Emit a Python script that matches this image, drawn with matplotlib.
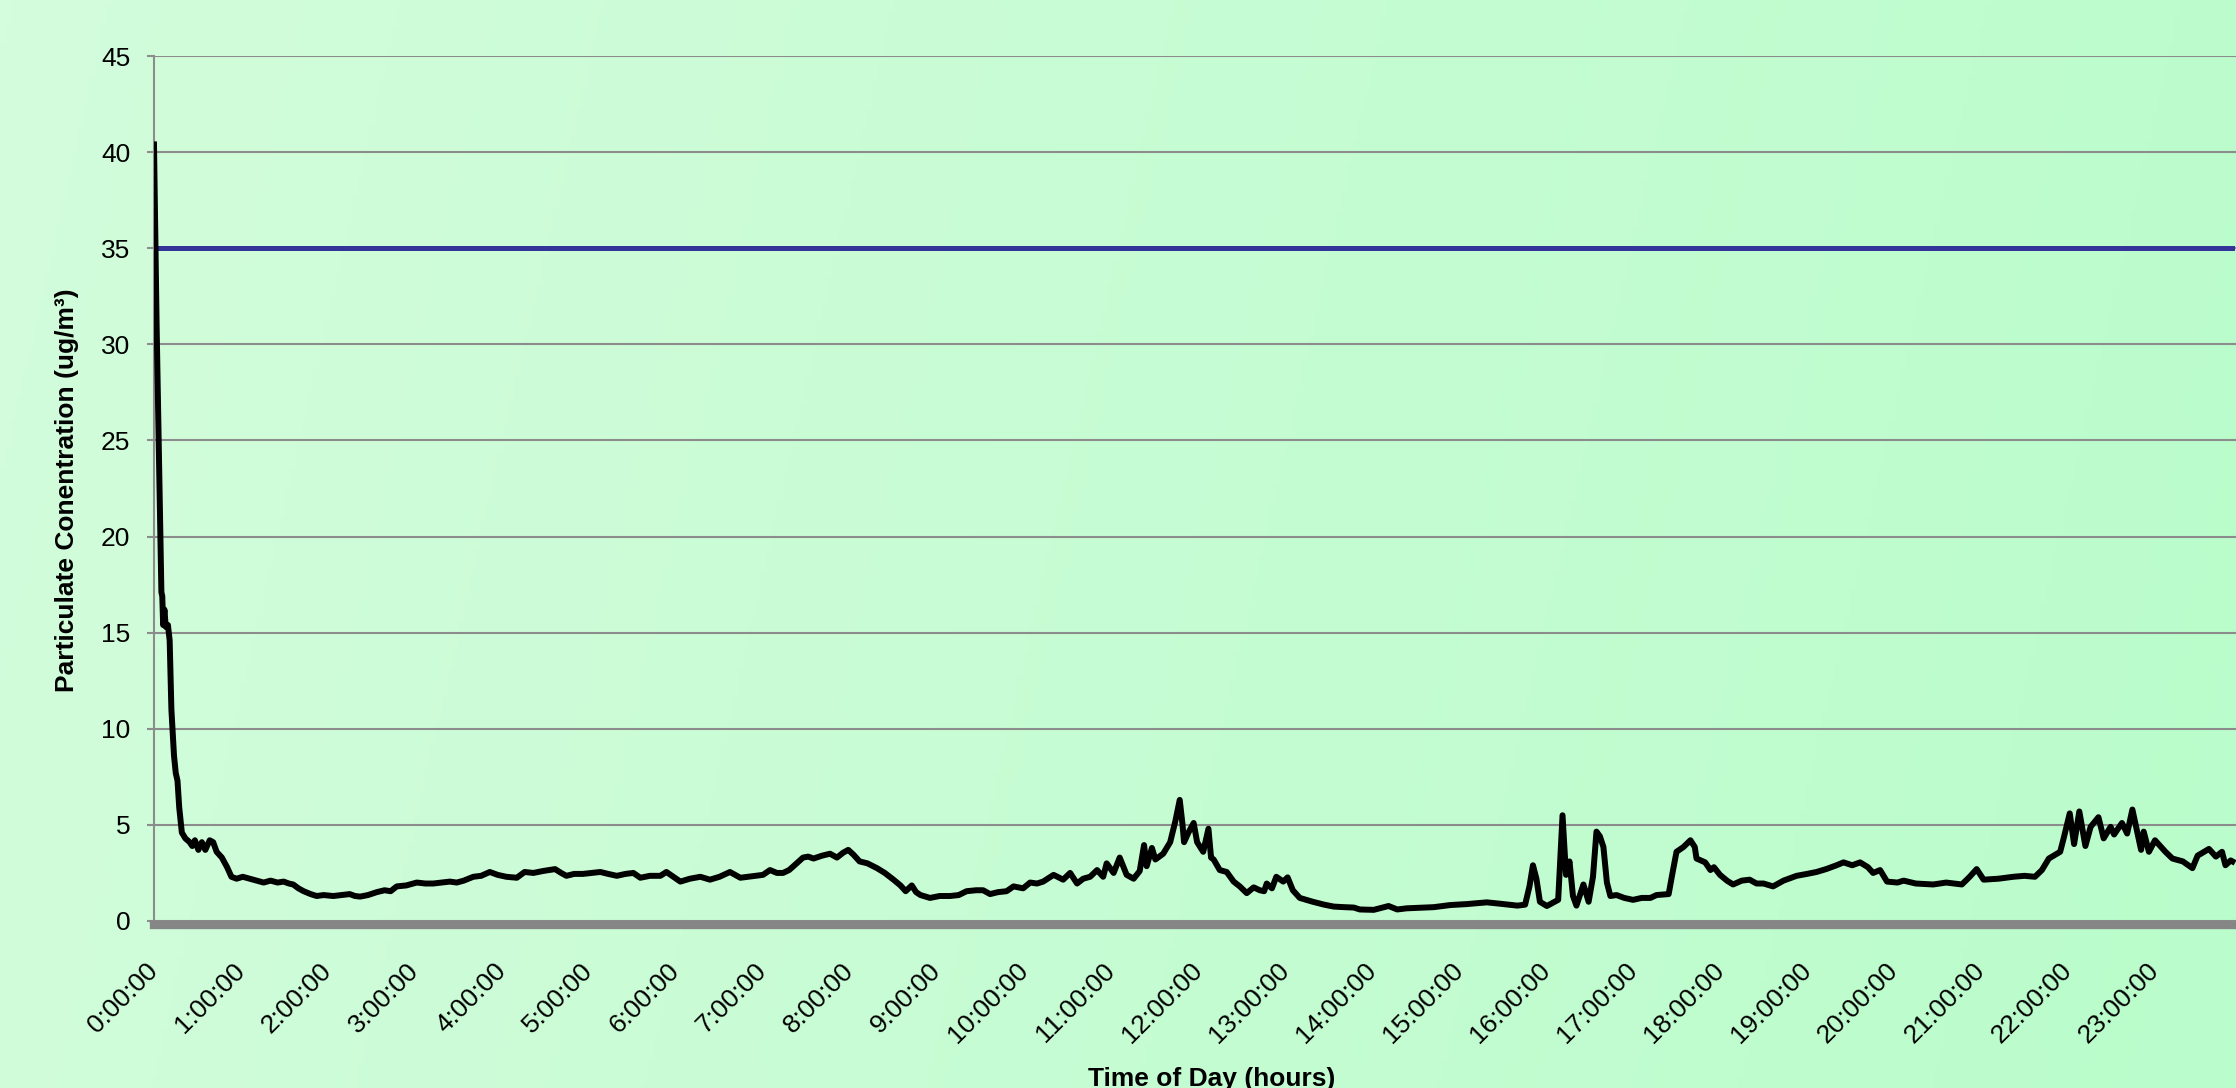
import numpy as np
import matplotlib.pyplot as plt
from matplotlib.colors import LinearSegmentedColormap

plt.rcParams['font.family'] = ['Liberation Sans', 'DejaVu Sans']

# time of day in hours, particulate concentration in ug/m3
hours = [
    0.00, 0.03, 0.06, 0.085, 0.095, 0.105, 0.12, 0.135, 0.16, 0.18, 0.20, 0.23, 0.25, 0.27, 0.29, 0.32,
    0.36, 0.41, 0.44, 0.47, 0.51, 0.55, 0.59, 0.64, 0.68, 0.72, 0.78, 0.84, 0.89, 0.95,
    1.02, 1.10, 1.18, 1.26, 1.34, 1.42, 1.49, 1.55, 1.60, 1.66, 1.72, 1.80, 1.87, 1.95,
    2.06, 2.15, 2.25, 2.31, 2.37, 2.46, 2.56, 2.65, 2.72, 2.79, 2.90,
    3.02, 3.12, 3.21, 3.30, 3.40, 3.48, 3.56, 3.67, 3.76, 3.86, 3.95,
    4.05, 4.17, 4.26, 4.36, 4.47, 4.61, 4.68, 4.74, 4.83, 4.93,
    5.03, 5.13, 5.22, 5.32, 5.42, 5.51, 5.59, 5.70, 5.82, 5.89, 5.97,
    6.05, 6.16, 6.28, 6.39, 6.50, 6.62, 6.74, 6.83, 6.93,
    7.00, 7.08, 7.16, 7.23, 7.30, 7.35, 7.46, 7.52, 7.58, 7.68, 7.77, 7.85, 7.92, 7.98,
    8.04, 8.11, 8.20, 8.31, 8.40, 8.50, 8.58, 8.64, 8.71, 8.76, 8.81, 8.92,
    9.03, 9.15, 9.25, 9.34, 9.45, 9.53, 9.61, 9.70, 9.80, 9.88, 9.99,
    10.07, 10.15, 10.22, 10.34, 10.45, 10.53, 10.61, 10.68, 10.76, 10.84, 10.91, 10.95,
    11.03, 11.10, 11.18, 11.26, 11.33, 11.38, 11.41, 11.47, 11.51, 11.60, 11.68, 11.74, 11.79,
    11.82, 11.84, 11.89, 11.95, 11.99,
    12.06, 12.12, 12.15, 12.18, 12.25, 12.33, 12.41, 12.48, 12.56, 12.64, 12.71, 12.76, 12.79,
    12.85, 12.90, 12.98,
    13.03, 13.09, 13.17, 13.32, 13.45, 13.56, 13.68, 13.79, 13.86,
    14.02, 14.19, 14.29, 14.40, 14.51, 14.71, 14.90,
    15.09, 15.32, 15.47, 15.67, 15.76, 15.81, 15.85, 15.89, 15.93,
    16.01, 16.08, 16.14, 16.19, 16.23, 16.27, 16.31, 16.35, 16.43, 16.49, 16.54, 16.58, 16.62,
    16.66, 16.70, 16.74, 16.81, 16.90,
    17.00, 17.10, 17.20, 17.27, 17.41, 17.45, 17.50, 17.58, 17.66, 17.71, 17.73, 17.83, 17.89, 17.93,
    18.00, 18.08, 18.15, 18.25, 18.34, 18.42, 18.50, 18.61, 18.73, 18.88,
    19.00, 19.11, 19.22, 19.34, 19.42, 19.52, 19.61, 19.70, 19.76, 19.84, 19.92,
    20.04, 20.11, 20.25, 20.45, 20.60, 20.78, 20.87, 20.95,
    21.03, 21.20, 21.37, 21.50, 21.62, 21.70, 21.78, 21.91, 21.95,
    22.02, 22.07, 22.13, 22.20, 22.26, 22.35, 22.41, 22.49, 22.53, 22.62, 22.68, 22.74, 22.80,
    22.84, 22.87, 22.93,
    23.00, 23.12, 23.20, 23.32, 23.43, 23.49, 23.62, 23.70, 23.77, 23.81, 23.87, 23.89,
]
pm25 = [
    40.4, 31.0, 23.5, 17.1, 16.9, 15.4, 16.2, 15.3, 15.4, 14.6, 11.0, 8.6, 7.7, 7.3, 5.9, 4.6,
    4.3, 4.1, 3.9, 4.2, 3.7, 4.1, 3.7, 4.2, 4.1, 3.6, 3.3, 2.8, 2.3, 2.2,
    2.3, 2.2, 2.1, 2.0, 2.1, 2.0, 2.05, 1.95, 1.9, 1.7, 1.55, 1.4, 1.3, 1.35,
    1.3, 1.35, 1.4, 1.3, 1.27, 1.35, 1.5, 1.6, 1.55, 1.8, 1.85,
    2.0, 1.95, 1.95, 2.0, 2.05, 2.0, 2.1, 2.3, 2.35, 2.55, 2.4,
    2.3, 2.25, 2.55, 2.5, 2.6, 2.7, 2.5, 2.35, 2.45, 2.45,
    2.5, 2.55, 2.45, 2.35, 2.45, 2.5, 2.25, 2.35, 2.35, 2.55, 2.3,
    2.05, 2.2, 2.3, 2.15, 2.3, 2.55, 2.25, 2.3, 2.35,
    2.4, 2.65, 2.5, 2.5, 2.65, 2.85, 3.3, 3.35, 3.25, 3.4, 3.5, 3.3, 3.55, 3.7,
    3.45, 3.1, 3.0, 2.75, 2.5, 2.15, 1.85, 1.55, 1.85, 1.5, 1.35, 1.2,
    1.3, 1.3, 1.35, 1.55, 1.6, 1.6, 1.4, 1.5, 1.55, 1.8, 1.7,
    2.0, 1.95, 2.05, 2.4, 2.15, 2.5, 1.95, 2.2, 2.3, 2.65, 2.3, 3.0,
    2.5, 3.3, 2.4, 2.2, 2.6, 3.95, 2.85, 3.8, 3.2, 3.5, 4.1, 5.2, 6.3,
    5.1, 4.1, 4.6, 5.1, 4.1,
    3.6, 4.8, 3.3, 3.2, 2.65, 2.55, 2.05, 1.8, 1.45, 1.75, 1.6, 1.55, 1.95,
    1.7, 2.3, 2.05,
    2.27, 1.6, 1.2, 1.0, 0.85, 0.75, 0.72, 0.7, 0.6,
    0.58, 0.78, 0.6, 0.66, 0.68, 0.72, 0.83,
    0.88, 0.97, 0.9, 0.8, 0.85, 1.8, 2.9, 2.2, 1.0,
    0.78, 0.95, 1.1, 5.5, 2.4, 3.1, 1.3, 0.8, 1.9, 1.0, 2.3, 4.65, 4.4,
    3.85, 2.0, 1.3, 1.35, 1.2,
    1.1, 1.2, 1.2, 1.35, 1.4, 2.4, 3.6, 3.85, 4.2, 3.85, 3.25, 3.05, 2.65, 2.8,
    2.4, 2.1, 1.9, 2.1, 2.15, 1.95, 1.95, 1.8, 2.1, 2.35,
    2.45, 2.55, 2.7, 2.9, 3.05, 2.9, 3.05, 2.8, 2.5, 2.65, 2.05,
    2.0, 2.1, 1.95, 1.9, 2.0, 1.9, 2.3, 2.7,
    2.15, 2.2, 2.3, 2.35, 2.3, 2.65, 3.25, 3.6, 4.3,
    5.6, 4.0, 5.7, 3.9, 4.9, 5.4, 4.3, 4.9, 4.5, 5.1, 4.55, 5.8, 4.55,
    3.7, 4.65, 3.6,
    4.2, 3.6, 3.25, 3.1, 2.75, 3.4, 3.75, 3.35, 3.6, 2.9, 3.15, 3.1,
]
standard = 35
y_ticks = [0, 5, 10, 15, 20, 25, 30, 35, 40, 45]
hour_ticks = list(range(24))
hour_labels = [f"{h}:00:00" for h in hour_ticks]

W, H = 2236, 1088
fig = plt.figure(figsize=(W / 100, H / 100), dpi=100)

# soft green gradient behind everything
bg = fig.add_axes([0, 0, 1, 1], zorder=-1)
gx, gy = np.meshgrid(np.linspace(0, 1, 400), np.linspace(0, 1, 200))
grad = 0.9 * gx + 0.1 * (1 - gy)
cmap = LinearSegmentedColormap.from_list('bg', ['#d3fddc', '#bafccb'])
bg.imshow(grad, cmap=cmap, aspect='auto', extent=[0, 1, 0, 1], origin='lower')
bg.axis('off')

ax = fig.add_axes([154 / W, 167 / H, 1 - 154 / W, 865 / H])
ax.set_facecolor('none')
ax.set_xlim(0, 2082 / 87)
ax.set_ylim(0, 45)

ax.yaxis.grid(True, color='#8c8c8c', lw=1.5)
ax.set_axisbelow(True)

ax.plot(hours, np.full(len(hours), standard), color='#333399', lw=3.6, zorder=2)
ax.plot(hours, pm25, color='black', lw=4.3, solid_joinstyle='round', zorder=3)

for side in ['top', 'right']:
    ax.spines[side].set_visible(False)
ax.spines['left'].set_color('#8c8c8c')
ax.spines['left'].set_linewidth(1.5)
ax.spines['bottom'].set_color('#868686')
ax.spines['bottom'].set_linewidth(6)
ax.spines['bottom'].set_position(('outward', 3))

ax.set_yticks(y_ticks)
ax.tick_params(axis='y', length=5, width=1.5, color='#8c8c8c', labelsize=19, pad=12)
ax.set_xticks(hour_ticks)
ax.set_xticklabels(hour_labels, rotation=45, ha='right', va='center', rotation_mode='anchor')
ax.tick_params(axis='x', length=0, labelsize=19, pad=30)

fig.text(67 / W, 1 - 490 / H, 'Particulate Conentration (ug/m³)', rotation=90,
         ha='center', va='center', fontsize=19, fontweight='bold')
fig.text(1212 / W, 2 / H, 'Time of Day (hours)', ha='center', va='baseline',
         fontsize=19, fontweight='bold')

fig.savefig('out.png', dpi=100)
